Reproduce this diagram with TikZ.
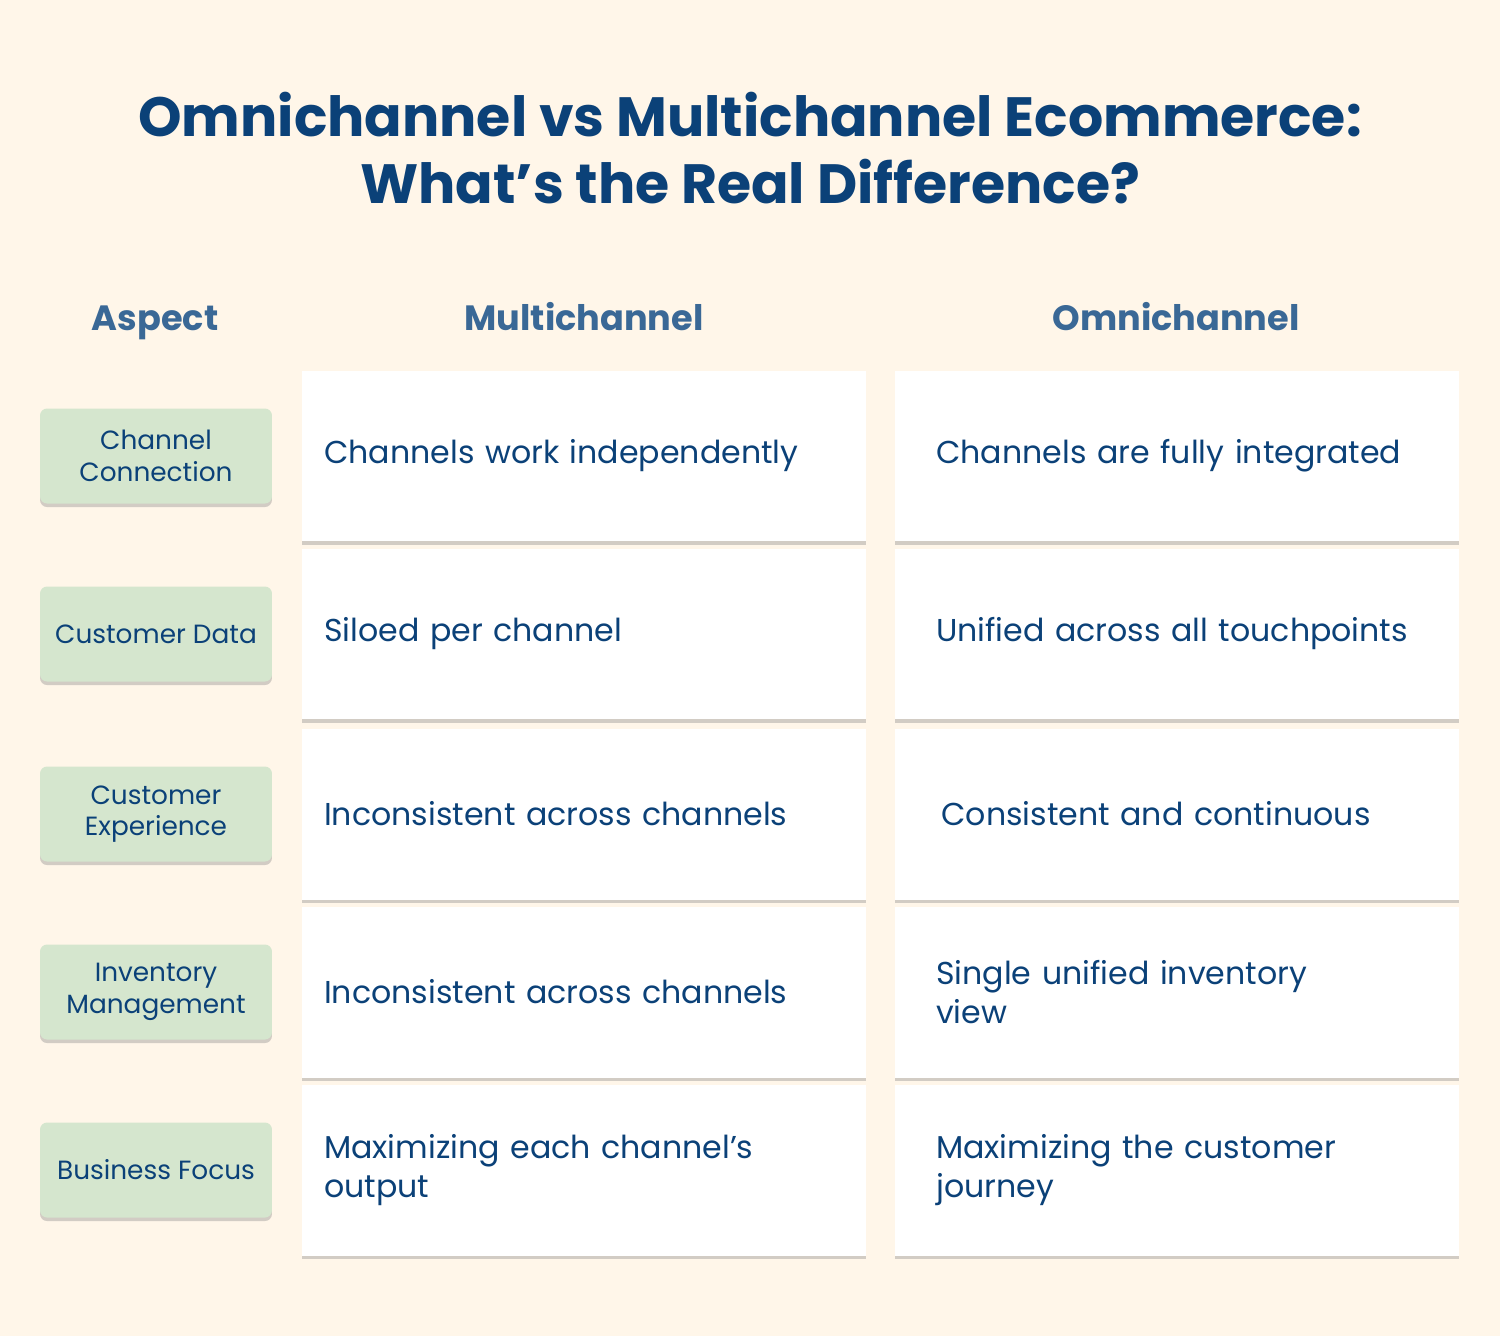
\documentclass[tikz,border=0pt]{standalone}
\usepackage{fontspec}
\setmainfont{Poppins}
\usetikzlibrary{shadows,positioning}
\definecolor{bgcream}{HTML}{FFF6E9}
\definecolor{titleblue}{HTML}{0B4178}
\definecolor{headblue}{HTML}{3A6896}
\definecolor{aspectgreen}{HTML}{D5E6CE}
\tikzset{
  aspect/.style={fill=aspectgreen, rounded corners=4pt, minimum width=4.64cm, minimum height=1.9cm,
    align=center, text=titleblue, font=\fontsize{15}{18}\selectfont,
    drop shadow={shadow xshift=0pt, shadow yshift=-2pt, opacity=0.35}},
  cell/.style={fill=white, minimum width=11.28cm, minimum height=3.42cm,
    drop shadow={shadow xshift=0pt, shadow yshift=-2pt, opacity=0.35}},
  celltext/.style={anchor=west, align=left, text width=10cm, text=titleblue, font=\fontsize{18}{22.5}\selectfont},
  head/.style={anchor=base, text=headblue, font=\bfseries\fontsize{20}{22}\selectfont}
}
\begin{document}
\begin{tikzpicture}[x=0.02cm, y=-0.02cm]
  \fill[bgcream] (0,0) rectangle (1500,1336);
  \useasboundingbox (0,0) rectangle (1500,1336);
  \node[text=titleblue, align=center, font=\bfseries\fontsize{31.5}{38}\selectfont] (title) at (750,148)
    {Omnichannel vs Multichannel Ecommerce:\\What\symbol{39}s the Real Difference?};
  \node[head] (hAspect) at (155,330) {Aspect};
  \node[head] (hMulti) at (584,330) {Multichannel};
  \node[head] (hOmni) at (1176,330) {Omnichannel};
  \foreach \y/\asp/\multi/\omni [count=\i] in {
      456/{Channel\\Connection}/{Channels work independently}/{Channels are fully integrated},
      634/{Customer Data}/{Siloed per channel}/{Unified across all touchpoints},
      814/{Customer\\Experience}/{Inconsistent across channels}/{\,Consistent and continuous},
      992/{Inventory\\Management}/{Inconsistent across channels}/{Single unified inventory\\view},
      1170/{Business Focus}/{Maximizing each channel\symbol{39}s\\output}/{Maximizing the customer\\journey}} {
    \node[aspect] (asp\i) at (156,\y) {\asp};
    \node[cell] (multi\i) at (584,\y) {};
    \node[cell] (omni\i) at (1177,\y) {};
    \node[celltext] (multiT\i) at (318,\y) {\multi};
    \node[celltext] (omniT\i) at (930,\y) {\omni};
  }
\end{tikzpicture}
\end{document}
